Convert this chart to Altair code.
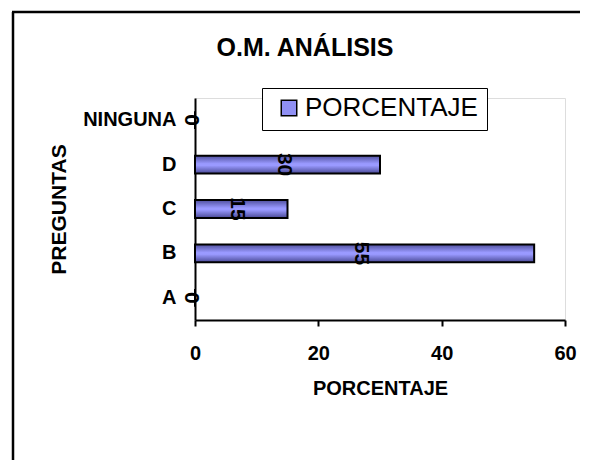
import altair as alt
import pandas as pd

preguntas = ["NINGUNA", "D", "C", "B", "A"]
porcentaje = [0, 30, 15, 55, 0]
serie = "PORCENTAJE"
x_ticks = [0, 20, 40, 60]
titulo = "O.M. ANÁLISIS"

df = pd.DataFrame({"pregunta": preguntas, "valor": porcentaje, "serie": [serie] * len(preguntas)})

FONT = "Liberation Sans"

grad = alt.Gradient(
    gradient="linear",
    x1=0, x2=0, y1=0, y2=1,
    stops=[
        alt.GradientStop(offset=0, color="#50509e"),
        alt.GradientStop(offset=0.45, color="#9a9aff"),
        alt.GradientStop(offset=0.55, color="#9a9aff"),
        alt.GradientStop(offset=1, color="#4a4a96"),
    ],
)

y_enc = alt.Y(
    "pregunta:N",
    sort=preguntas,
    scale=alt.Scale(paddingInner=0.6, paddingOuter=0.3),
    axis=alt.Axis(
        title="PREGUNTAS", ticks=False, labelPadding=19,
        labelFontSize=20, labelFontWeight="bold", labelFont=FONT, labelColor="black",
        titleFontSize=21, titleFontWeight="bold", titleFont=FONT, titleColor="black",
        titlePadding=13, domainColor="black", domainWidth=2,
    ),
)
x_enc = alt.X(
    "valor:Q",
    scale=alt.Scale(domain=[0, 60], nice=False),
    axis=alt.Axis(
        title="PORCENTAJE", values=x_ticks, grid=False, labelFlush=False,
        tickSize=6, tickColor="black", tickWidth=2,
        labelPadding=17, labelFontSize=20, labelFontWeight="bold", labelFont=FONT, labelColor="black",
        titleFontSize=20, titleFontWeight="bold", titleFont=FONT, titleColor="black",
        titlePadding=15, domainColor="black", domainWidth=2,
    ),
)

base = alt.Chart(df)

bars = base.mark_bar(fill=grad, stroke="black", strokeWidth=2).encode(x=x_enc, y=y_enc)

legend_layer = base.mark_square(opacity=0, size=10).encode(
    x="valor:Q",
    y=alt.Y("pregunta:N", sort=preguntas),
    color=alt.Color(
        "serie:N",
        scale=alt.Scale(range=["#9090f4"]),
        legend=alt.Legend(
            title=None, orient="none", legendX=67, legendY=-10,
            symbolType="square", symbolSize=240, symbolStrokeColor="black",
            symbolStrokeWidth=1.5, symbolOpacity=1, symbolOffset=5,
            labelFontSize=26, labelFont=FONT, labelFontWeight="normal", labelColor="black",
            labelOffset=3, labelLimit=400, padding=9, clipHeight=22,
            strokeColor="black", fillColor="white",
        ),
    ),
)

labels = base.transform_calculate(mid="datum.valor / 2").mark_text(
    angle=90, fontSize=21, fontWeight="bold", font=FONT, color="black",
    align="center", baseline="middle", dy=4,
).encode(
    x="mid:Q",
    y=alt.Y("pregunta:N", sort=preguntas),
    text="valor:Q",
)

frame_data = alt.Data(values=[{"t": titulo}])
frame_left = alt.Chart(frame_data).mark_rule(color="black", strokeWidth=2.5).encode(
    x=alt.value(-182), y=alt.value(-86), y2=alt.value(420)
)
frame_top = alt.Chart(frame_data).mark_rule(color="black", strokeWidth=2.5).encode(
    x=alt.value(-183), x2=alt.value(420), y=alt.value(-86)
)
title_text = alt.Chart(frame_data).mark_text(
    fontSize=25, fontWeight="bold", font=FONT, color="black",
    align="center", baseline="alphabetic",
).encode(
    x=alt.value(110), y=alt.value(-42), text="t:N"
)

chart = alt.layer(frame_left, frame_top, title_text, bars, labels, legend_layer).properties(
    width=370,
    height=222,
    autosize=alt.AutoSizeParams(type="none"),
    padding={"left": 187, "top": 90, "right": 15, "bottom": 140},
).configure_view(stroke=None).configure(background="white")

chart.save("out.html", embed_options={"renderer": "svg", "actions": False})
